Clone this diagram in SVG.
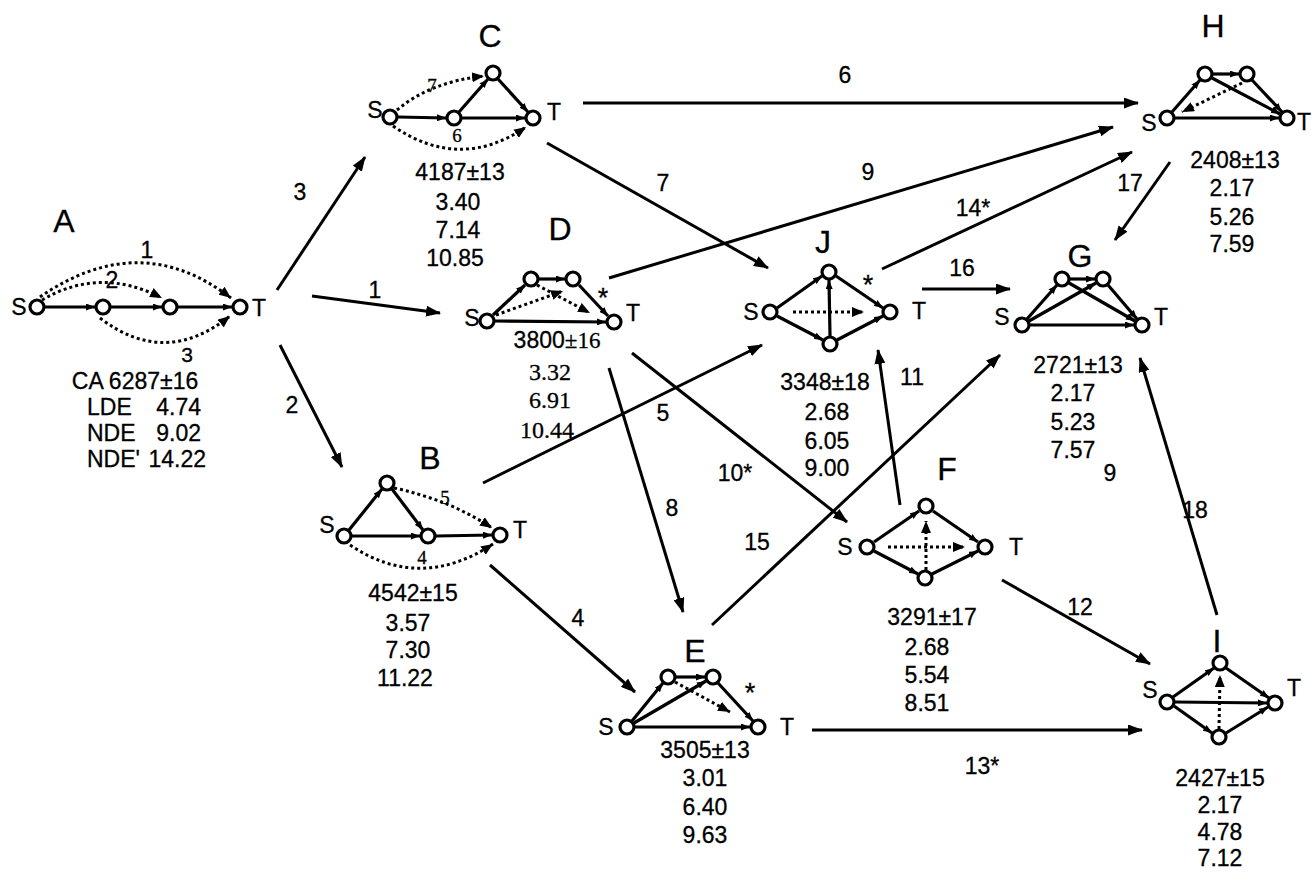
<svg xmlns="http://www.w3.org/2000/svg" width="1313" height="873" viewBox="0 0 1313 873">
<defs>
<marker id="big" markerUnits="userSpaceOnUse" markerWidth="15" markerHeight="11" viewBox="0 0 15 11" refX="14" refY="5.5" orient="auto"><path d="M0,0 L15,5.5 L0,11 z" fill="#000"/></marker>
<marker id="sm" markerUnits="userSpaceOnUse" markerWidth="9" markerHeight="7" viewBox="0 0 9 7" refX="9" refY="3.5" orient="auto"><path d="M0,0 L9,3.5 L0,7 z" fill="#000"/></marker>
<marker id="dt" markerUnits="userSpaceOnUse" markerWidth="12" markerHeight="10" viewBox="0 0 12 10" refX="12" refY="5" orient="auto"><path d="M0,0 L12,5 L0,10 z" fill="#000"/></marker>
<style>
text{font-family:"Liberation Sans",Arial,sans-serif;font-size:23px;fill:#000;stroke:#000;stroke-width:0.3;text-anchor:middle}
.ttl{font-size:32px}
.ser{font-family:"Liberation Serif","Times New Roman",serif}
.sl{font-size:19px}
.st{font-size:27px}
.con line{stroke:#000;stroke-width:3;marker-end:url(#big)}
.e{stroke:#000;stroke-width:3.2;fill:none;marker-end:url(#sm)}
.d{stroke:#000;stroke-width:3;fill:none;stroke-dasharray:3 3;marker-end:url(#dt)}
.v{fill:#fff;stroke:#000;stroke-width:3.2}
</style>
</defs>
<rect width="1313" height="873" fill="#fff"/>

<!-- connectors between the motif nodes -->
<g id="connectors" class="con">
<line x1="277" y1="290" x2="365" y2="157"/>
<line x1="312" y1="296" x2="440" y2="313"/>
<line x1="280" y1="345" x2="342" y2="467"/>
<line x1="490" y1="565" x2="635" y2="692"/>
<line x1="483" y1="483" x2="762" y2="345"/>
<line x1="583" y1="103" x2="1138" y2="103"/>
<line x1="547" y1="143" x2="768" y2="268"/>
<line x1="609" y1="368" x2="683" y2="612"/>
<line x1="609" y1="278" x2="1113" y2="127"/>
<line x1="632" y1="353" x2="847" y2="522"/>
<line x1="900" y1="505" x2="878" y2="350"/>
<line x1="1002" y1="580" x2="1150" y2="664"/>
<line x1="812" y1="730" x2="1142" y2="730"/>
<line x1="882" y1="269" x2="1132" y2="152"/>
<line x1="712" y1="625" x2="1000" y2="355"/>
<line x1="922" y1="289" x2="1010" y2="289"/>
<line x1="1170" y1="162" x2="1115" y2="240"/>
<line x1="1217" y1="615" x2="1140" y2="358"/>
</g>
<g id="connector-labels">
<text x="147" y="258">1</text>
<text x="300" y="200">3</text>
<text x="375" y="298">1</text>
<text x="292" y="413">2</text>
<text x="578" y="626">4</text>
<text x="663" y="421">5</text>
<text x="845" y="83">6</text>
<text x="663" y="191">7</text>
<text x="672" y="516">8</text>
<text x="868" y="180">9</text>
<text x="735" y="481">10*</text>
<text x="912" y="385">11</text>
<text x="1080" y="615">12</text>
<text x="982" y="774">13*</text>
<text x="973" y="216">14*</text>
<text x="757" y="550">15</text>
<text x="962" y="276">16</text>
<text x="1130" y="191">17</text>
<text x="1195" y="518">18</text>
</g>

<!-- A: chain of three edges with three bypasses -->
<g id="nodeA">
<text class="ttl" x="64" y="232">A</text>
<line class="e" x1="45" y1="307" x2="95" y2="307"/>
<line class="e" x1="111" y1="307" x2="162" y2="307"/>
<line class="e" x1="178" y1="307" x2="232" y2="307"/>
<path class="d" d="M40,297 Q140,228 231,298"/>
<path class="d" d="M42,300 Q100,266 162,298"/>
<path class="d" d="M100,318 Q165,368 230,316"/>
<circle class="v" cx="37" cy="307" r="7"/>
<circle class="v" cx="103" cy="307" r="7"/>
<circle class="v" cx="170" cy="307" r="7"/>
<circle class="v" cx="240" cy="307" r="7"/>
<text x="19" y="315">S</text>
<text x="259" y="316">T</text>
<text x="112" y="288">2</text>
<text x="187" y="362" style="font-size:21px">3</text>
<text x="135" y="389">CA 6287±16</text>
<text x="87" y="415" style="text-anchor:start">LDE</text><text x="201" y="415" style="text-anchor:end">4.74</text>
<text x="87" y="441" style="text-anchor:start">NDE</text><text x="201" y="441" style="text-anchor:end">9.02</text>
<text x="87" y="467" style="text-anchor:start">NDE'</text><text x="206" y="467" style="text-anchor:end">14.22</text>
</g>

<!-- C -->
<g id="nodeC">
<text class="ttl" x="490" y="47">C</text>
<line class="e" x1="398" y1="117" x2="446" y2="118"/>
<line class="e" x1="459" y1="112" x2="488" y2="79"/>
<line class="e" x1="498" y1="79" x2="528" y2="112"/>
<line class="e" x1="462" y1="118" x2="525" y2="118"/>
<path class="d" d="M397,110 Q430,82 484,76"/>
<path class="d" d="M393,126 Q460,172 526,127"/>
<circle class="v" cx="390" cy="117" r="7"/>
<circle class="v" cx="454" cy="118" r="7"/>
<circle class="v" cx="493" cy="73" r="7"/>
<circle class="v" cx="533" cy="118" r="7"/>
<text x="375" y="118">S</text>
<text x="554" y="120">T</text>
<text class="ser sl" x="432" y="92">7</text>
<text class="ser sl" x="457" y="142">6</text>
<text x="460" y="180">4187±13</text>
<text x="458" y="210">3.40</text>
<text x="458" y="238">7.14</text>
<text x="455" y="266">10.85</text>
</g>

<!-- D -->
<g id="nodeD">
<text class="ttl" x="560" y="240">D</text>
<line class="e" x1="493" y1="315" x2="525" y2="285"/>
<line class="e" x1="539" y1="279" x2="565" y2="279"/>
<line class="e" x1="579" y1="285" x2="608" y2="316"/>
<line class="e" x1="495" y1="321" x2="606" y2="322"/>
<line class="d" x1="496" y1="315" x2="563" y2="291"/>
<line class="d" x1="537" y1="285" x2="590" y2="313"/>
<circle class="v" cx="487" cy="321" r="7"/>
<circle class="v" cx="531" cy="279" r="7"/>
<circle class="v" cx="573" cy="279" r="7"/>
<circle class="v" cx="614" cy="322" r="7"/>
<text x="472" y="326">S</text>
<text x="633" y="321">T</text>
<text class="st" x="603" y="307">*</text>
<text x="557" y="348">3800<tspan class="ser">±16</tspan></text>
<text class="ser" x="550" y="380" style="font-size:24px">3.32</text>
<text class="ser" x="550" y="408" style="font-size:24px">6.91</text>
<text class="ser" x="547" y="438" style="font-size:24px">10.44</text>
</g>

<!-- B -->
<g id="nodeB">
<text class="ttl" x="430" y="469">B</text>
<line class="e" x1="349" y1="530" x2="382" y2="489"/>
<line class="e" x1="392" y1="489" x2="423" y2="530"/>
<line class="e" x1="352" y1="536" x2="420" y2="536"/>
<line class="e" x1="436" y1="536" x2="492" y2="535"/>
<path class="d" d="M394,488 Q450,500 492,528"/>
<path class="d" d="M350,545 Q420,592 493,544"/>
<circle class="v" cx="344" cy="536" r="7"/>
<circle class="v" cx="387" cy="483" r="7"/>
<circle class="v" cx="428" cy="536" r="7"/>
<circle class="v" cx="500" cy="535" r="7"/>
<text x="327" y="533">S</text>
<text x="520" y="538">T</text>
<text class="ser sl" x="445" y="504">5</text>
<text class="ser sl" x="422" y="564">4</text>
<text x="413" y="601">4542±15</text>
<text x="408" y="631">3.57</text>
<text x="408" y="658">7.30</text>
<text x="405" y="686">11.22</text>
</g>

<!-- E -->
<g id="nodeE">
<text class="ttl" x="695" y="662">E</text>
<line class="e" x1="632" y1="721" x2="663" y2="683"/>
<line class="e" x1="676" y1="677" x2="705" y2="677"/>
<line class="e" x1="718" y1="683" x2="753" y2="721"/>
<line class="e" x1="634" y1="723" x2="706" y2="681"/>
<line class="e" x1="635" y1="727" x2="750" y2="727"/>
<line class="d" x1="675" y1="682" x2="730" y2="712"/>
<circle class="v" cx="627" cy="727" r="7"/>
<circle class="v" cx="668" cy="677" r="7"/>
<circle class="v" cx="713" cy="677" r="7"/>
<circle class="v" cx="758" cy="727" r="7"/>
<text x="606" y="735">S</text>
<text x="787" y="735">T</text>
<text class="st" x="750" y="702">*</text>
<text x="705" y="758">3505±13</text>
<text x="705" y="786">3.01</text>
<text x="705" y="815">6.40</text>
<text x="705" y="843">9.63</text>
</g>

<!-- J -->
<g id="nodeJ">
<text class="ttl" x="823" y="253">J</text>
<line class="e" x1="777" y1="308" x2="822" y2="276"/>
<line class="e" x1="777" y1="316" x2="823" y2="340"/>
<line class="e" x1="836" y1="276" x2="883" y2="308"/>
<line class="e" x1="837" y1="340" x2="883" y2="316"/>
<line class="e" x1="830" y1="336" x2="829" y2="280"/>
<line class="d" x1="793" y1="312" x2="864" y2="312"/>
<circle class="v" cx="770" cy="312" r="7"/>
<circle class="v" cx="829" cy="272" r="7"/>
<circle class="v" cx="830" cy="344" r="7"/>
<circle class="v" cx="890" cy="312" r="7"/>
<text x="751" y="320">S</text>
<text x="919" y="319">T</text>
<text class="st" x="868" y="294">*</text>
<text x="825" y="390">3348±18</text>
<text x="827" y="420">2.68</text>
<text x="827" y="449">6.05</text>
<text x="827" y="476">9.00</text>
</g>

<!-- F -->
<g id="nodeF">
<text class="ttl" x="947" y="480">F</text>
<line class="e" x1="874" y1="542" x2="919" y2="511"/>
<line class="e" x1="874" y1="551" x2="918" y2="574"/>
<line class="e" x1="933" y1="511" x2="978" y2="542"/>
<line class="e" x1="932" y1="574" x2="978" y2="551"/>
<line class="d" x1="888" y1="547" x2="965" y2="547"/>
<line class="d" x1="926" y1="570" x2="926" y2="521"/>
<circle class="v" cx="867" cy="547" r="7"/>
<circle class="v" cx="926" cy="506" r="7"/>
<circle class="v" cx="925" cy="578" r="7"/>
<circle class="v" cx="985" cy="547" r="7"/>
<text x="845" y="555">S</text>
<text x="1016" y="555">T</text>
<text x="932" y="625">3291±17</text>
<text x="927" y="655">2.68</text>
<text x="927" y="683">5.54</text>
<text x="927" y="711">8.51</text>
</g>

<!-- G -->
<g id="nodeG">
<text class="ttl" x="1080" y="267">G</text>
<line class="e" x1="1027" y1="319" x2="1057" y2="285"/>
<line class="e" x1="1070" y1="279" x2="1095" y2="279"/>
<line class="e" x1="1108" y1="285" x2="1137" y2="319"/>
<line class="e" x1="1069" y1="283" x2="1135" y2="321"/>
<line class="e" x1="1029" y1="321" x2="1096" y2="283"/>
<line class="e" x1="1030" y1="325" x2="1134" y2="325"/>
<circle class="v" cx="1022" cy="325" r="7"/>
<circle class="v" cx="1062" cy="279" r="7"/>
<circle class="v" cx="1103" cy="279" r="7"/>
<circle class="v" cx="1142" cy="325" r="7"/>
<text x="1002" y="325">S</text>
<text x="1161" y="325">T</text>
<text x="1078" y="373">2721±13</text>
<text x="1073" y="401">2.17</text>
<text x="1073" y="430">5.23</text>
<text x="1073" y="458">7.57</text>
<text x="1110" y="481">9</text>
</g>

<!-- H -->
<g id="nodeH">
<text class="ttl" x="1213" y="37">H</text>
<line class="e" x1="1172" y1="112" x2="1200" y2="80"/>
<line class="e" x1="1213" y1="74" x2="1239" y2="74"/>
<line class="e" x1="1252" y1="80" x2="1282" y2="112"/>
<line class="e" x1="1212" y1="78" x2="1280" y2="114"/>
<line class="e" x1="1175" y1="118" x2="1279" y2="118"/>
<line class="d" x1="1242" y1="83" x2="1182" y2="112"/>
<circle class="v" cx="1167" cy="118" r="7"/>
<circle class="v" cx="1205" cy="74" r="7"/>
<circle class="v" cx="1247" cy="74" r="7"/>
<circle class="v" cx="1287" cy="118" r="7"/>
<text x="1149" y="131">S</text>
<text x="1304" y="130">T</text>
<text x="1235" y="168">2408±13</text>
<text x="1232" y="196">2.17</text>
<text x="1232" y="225">5.26</text>
<text x="1232" y="252">7.59</text>
</g>

<!-- I -->
<g id="nodeI">
<text class="ttl" x="1217" y="652">I</text>
<line class="e" x1="1173" y1="697" x2="1214" y2="668"/>
<line class="e" x1="1174" y1="706" x2="1212" y2="733"/>
<line class="e" x1="1226" y1="668" x2="1269" y2="698"/>
<line class="e" x1="1226" y1="733" x2="1268" y2="707"/>
<line class="e" x1="1175" y1="702" x2="1267" y2="703"/>
<line class="d" x1="1219" y1="729" x2="1220" y2="675"/>
<circle class="v" cx="1167" cy="702" r="7"/>
<circle class="v" cx="1220" cy="663" r="7"/>
<circle class="v" cx="1219" cy="737" r="7"/>
<circle class="v" cx="1275" cy="703" r="7"/>
<text x="1150" y="698">S</text>
<text x="1294" y="696">T</text>
<text x="1220" y="786">2427±15</text>
<text x="1220" y="813">2.17</text>
<text x="1220" y="840">4.78</text>
<text x="1220" y="866">7.12</text>
</g>
</svg>
